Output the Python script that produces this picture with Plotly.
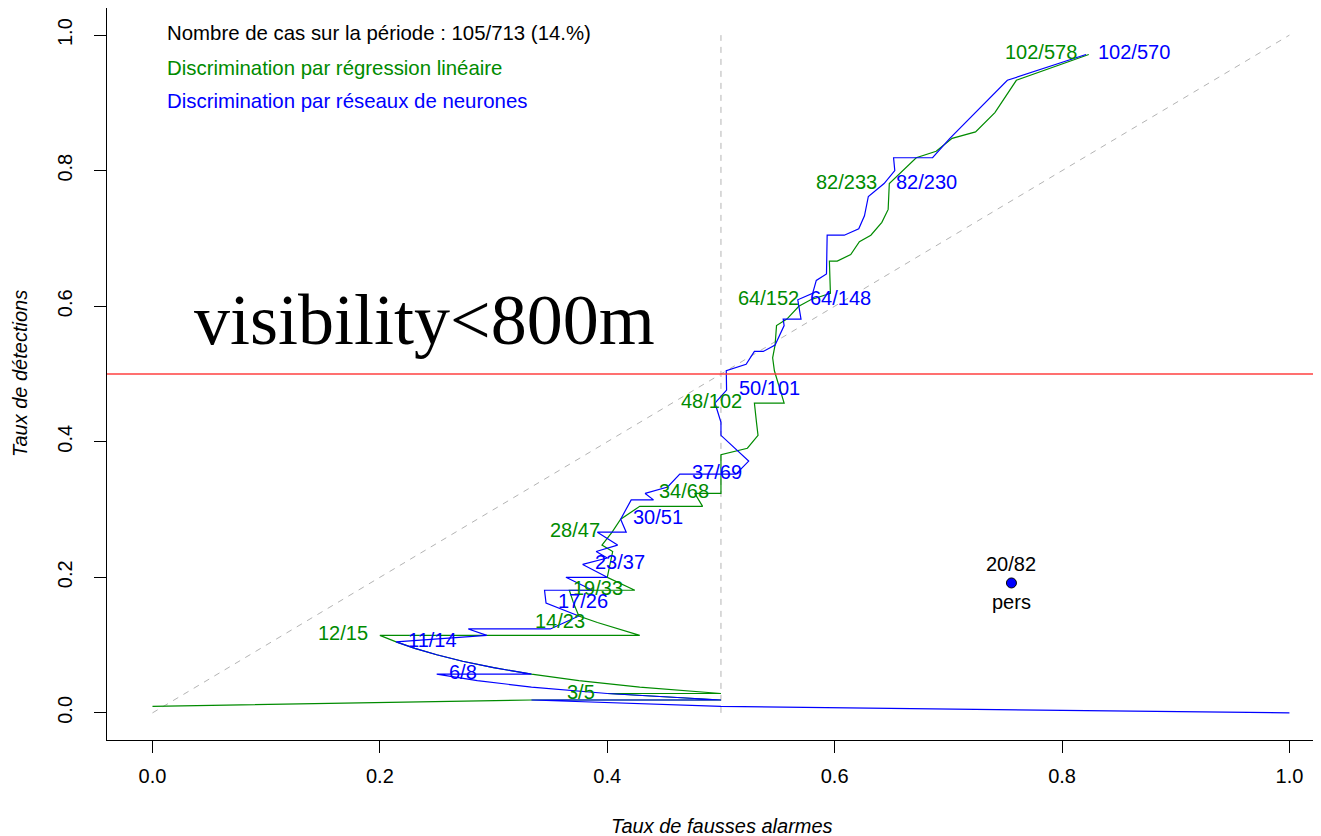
import plotly.graph_objects as go

TOTAL_CASES = 105

# Walk of (hits, alarms) for each discrimination method
green_hits =   [1, 2, 2, 3, 3, 4, 5, 6, 7, 8, 9, 10, 11, 12, 12, 14, 15, 17, 19, 19, 21, 25, 26, 28, 30, 32, 32, 34, 34, 36, 40, 41, 43, 45, 48, 48, 53, 55, 57, 60, 61, 63, 64, 65, 70, 70, 71, 73, 74, 76, 78, 82, 86, 87, 89, 90, 93, 98, 102]
green_alarms = [1, 3, 4, 5, 6, 7, 8, 9, 10, 11, 12, 13, 14, 15, 21, 23, 24, 27, 30, 33, 35, 42, 43, 47, 51, 56, 62, 65, 68, 72, 80, 86, 92, 96, 102, 108, 117, 121, 126, 133, 138, 146, 152, 161, 173, 176, 184, 193, 201, 212, 221, 233, 262, 280, 300, 326, 359, 408, 578]

blue_hits =   [0, 1, 2, 2, 3, 4, 5, 6, 6, 7, 8, 9, 10, 11, 12, 13, 13, 15, 17, 19, 19, 21, 21, 23, 24, 25, 26, 28, 28, 30, 33, 33, 34, 35, 37, 37, 39, 43, 45, 48, 50, 53, 54, 56, 56, 57, 60, 61, 61, 63, 64, 65, 67, 68, 74, 74, 75, 77, 80, 82, 84, 86, 86, 89, 98, 102]
blue_alarms = [1, 2, 3, 4, 5, 6, 7, 8, 9, 10, 11, 12, 13, 14, 17, 18, 20, 24, 26, 29, 31, 33, 35, 37, 40, 41, 44, 46, 48, 51, 57, 59, 60, 64, 69, 76, 82, 86, 90, 95, 101, 107, 113, 119, 121, 126, 135, 137, 142, 146, 148, 155, 161, 167, 182, 189, 198, 206, 216, 230, 242, 247, 274, 298, 395, 570]

green_labels = ["3/5", "12/15", "14/23", "19/33", "28/47", "34/68", "48/102", "64/152", "82/233", "102/578"]
blue_labels = ["6/8", "11/14", "17/26", "23/37", "30/51", "37/69", "50/101", "64/148", "82/230", "102/570"]

pers_hits, pers_alarms = 20, 82
pers_x, pers_y = 0.7555, 0.1917

header_lines = ["Nombre de cas sur la période : 105/713 (14.%)",
                "Discrimination par régression linéaire",
                "Discrimination par réseaux de neurones"]
header_y = [1.003, 0.951, 0.903]

GREEN = "#008B00"
BLUE = "#0000FF"
FONT = "Liberation Sans, Arial, Helvetica, sans-serif"


def far(h, n):
    return (n - h) / n


def pod(h):
    return h / TOTAL_CASES


fig = go.Figure()

# reference lines
fig.add_trace(go.Scatter(x=[0, 1], y=[0, 1], mode="lines",
                         line=dict(color="#B4B4B4", width=1, dash="6px,6px"),
                         hoverinfo="skip", showlegend=False))
fig.add_trace(go.Scatter(x=[0.5, 0.5], y=[0, 1], mode="lines",
                         line=dict(color="#B4B4B4", width=1, dash="6px,6px"),
                         hoverinfo="skip", showlegend=False))

fig.add_trace(go.Scatter(x=[far(h, n) for h, n in zip(green_hits, green_alarms)],
                         y=[pod(h) for h in green_hits], mode="lines",
                         line=dict(color=GREEN, width=1.2), showlegend=False))
fig.add_trace(go.Scatter(x=[far(h, n) for h, n in zip(blue_hits, blue_alarms)],
                         y=[pod(h) for h in blue_hits], mode="lines",
                         line=dict(color=BLUE, width=1.2), showlegend=False))

fig.add_trace(go.Scatter(x=[pers_x], y=[pers_y], mode="markers",
                         marker=dict(color=BLUE, size=10, line=dict(color="black", width=1)),
                         showlegend=False))

fig.add_shape(type="line", xref="paper", x0=0, x1=1, yref="y", y0=0.5, y1=0.5,
              line=dict(color="#FF4040", width=1.3))

ann = []
for lab in green_labels:
    h, n = map(int, lab.split("/"))
    ann.append(dict(x=far(h, n), y=pod(h), text=lab, showarrow=False, xanchor="right",
                    yanchor="middle", xshift=-10, yshift=2, font=dict(color=GREEN, size=20, family=FONT)))
for lab in blue_labels:
    h, n = map(int, lab.split("/"))
    ann.append(dict(x=far(h, n), y=pod(h), text=lab, showarrow=False, xanchor="left",
                    yanchor="middle", xshift=10, yshift=2, font=dict(color=BLUE, size=20, family=FONT)))

ann.append(dict(x=pers_x, y=pers_y, text=f"{pers_hits}/{pers_alarms}", showarrow=False,
                yanchor="bottom", yshift=6, font=dict(color="black", size=20, family=FONT)))
ann.append(dict(x=pers_x, y=pers_y, text="pers", showarrow=False,
                yanchor="top", yshift=-6, font=dict(color="black", size=20, family=FONT)))

for txt, yy, col in zip(header_lines, header_y, ["black", GREEN, BLUE]):
    ann.append(dict(x=0.0114, y=yy, text=txt, showarrow=False, xanchor="left", yanchor="middle",
                    font=dict(color=col, size=20.4, family=FONT)))

ann.append(dict(x=0.035, y=0.58, text="visibility<800m", showarrow=False, xanchor="left",
                yanchor="middle", font=dict(color="black", size=72, family="Liberation Serif, Times New Roman, serif")))

ann.append(dict(xref="paper", yref="paper", x=(722 - 107) / 1222, y=0, yanchor="middle", yshift=-86,
                text="<i>Taux de fausses alarmes</i>", showarrow=False,
                font=dict(color="black", size=20, family=FONT)))
ann.append(dict(xref="paper", yref="paper", x=0, y=0.5, xanchor="center", xshift=-87,
                text="<i>Taux de détections</i>", textangle=-90, showarrow=False,
                font=dict(color="black", size=20, family=FONT)))

# The page body adds an 8px offset, so the plot area is placed 8px up/left in figure coordinates
fig.update_layout(
    width=1321, height=836,
    margin=dict(l=99, r=0, t=0, b=104),
    plot_bgcolor="white", paper_bgcolor="white",
    annotations=ann,
    xaxis=dict(range=[-0.04, 1.0348], tickvals=[0, 0.2, 0.4, 0.6, 0.8, 1.0],
               ticktext=["0.0", "0.2", "0.4", "0.6", "0.8", "1.0"],
               showgrid=False, zeroline=False, showline=True, mirror=True,
               linecolor="black", linewidth=1, ticks="outside", ticklen=12,
               tickcolor="black", ticklabelstandoff=6,
               tickfont=dict(size=20, family=FONT, color="black")),
    yaxis=dict(range=[-0.04, 1.04], tickvals=[0, 0.2, 0.4, 0.6, 0.8, 1.0],
               ticktext=["0.0", "0.2", "0.4", "0.6", "0.8", "1.0"],
               showgrid=False, zeroline=False, showline=True, mirror=False,
               linecolor="black", linewidth=1, ticks="outside", ticklen=12,
               tickcolor="black", tickangle=-90, ticklabelstandoff=14,
               tickfont=dict(size=20, family=FONT, color="black")),
)

fig.write_html("out.html")
